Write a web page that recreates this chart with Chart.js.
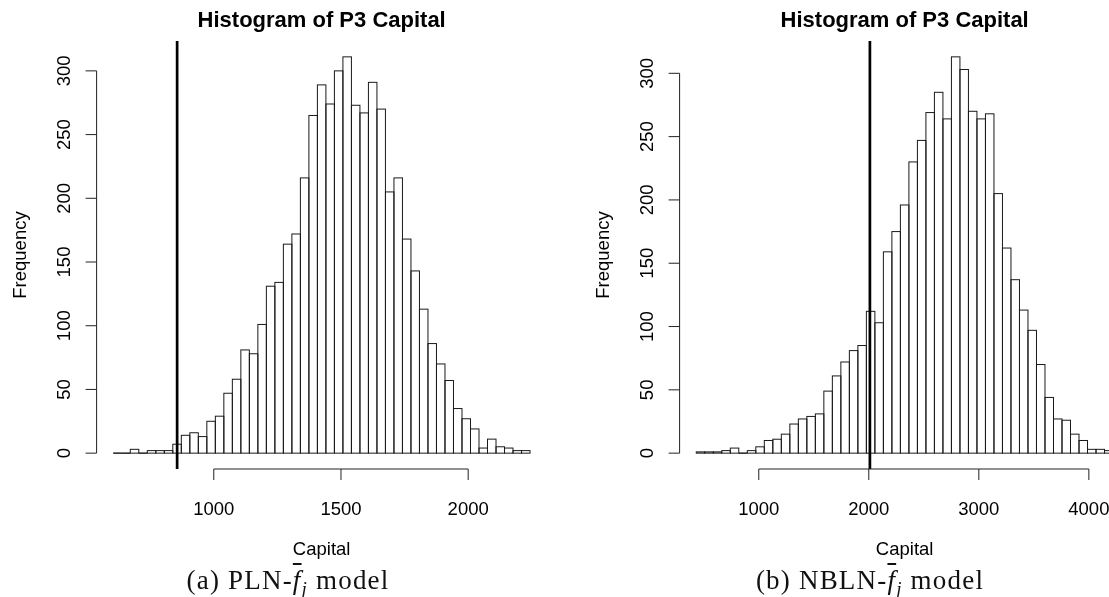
<!DOCTYPE html>
<html lang="en">
<head>
    <meta charset="UTF-8">
    <title>Histogram of P3 Capital</title>
    <script src="https://cdn.jsdelivr.net/npm/chart.js"></script>
    <style>
        body {
            margin: 0;
            width: 1109px;
            height: 597px;
            overflow: hidden;
            position: relative;
            background: #fff;
        }

        .panel {
            position: absolute;
            top: 0;
        }

        .caption {
            position: absolute;
            top: 567px;
            font-family: "Liberation Serif", "DejaVu Serif", serif;
            font-size: 27px;
            line-height: 27px;
            letter-spacing: 1.2px;
            white-space: nowrap;
            transform: translateX(-50%);
            color: #111;
        }

        .fbar {
            font-style: italic;
            text-decoration: overline;
        }

        .caption sub {
            font-style: italic;
            font-size: 19px;
        }
    </style>
</head>
<body>
    <canvas id="plnChart" class="panel" style="left:0px" width="555" height="597"></canvas>
    <canvas id="nblnChart" class="panel" style="left:583px" width="555" height="597"></canvas>

    <div class="caption" style="left:288px">(a) PLN-<span class="fbar">f</span><sub>j</sub> model</div>
    <div class="caption" style="left:870px">(b) NBLN-<span class="fbar">f</span><sub>j</sub> model</div>

    <script>
        // frequency per bin (49 bins each)
        const plnCounts = [0, 0, 3, 0, 2, 2, 2, 7, 14, 16, 13, 25, 29, 47, 58, 81, 78, 101, 131, 134,
            164, 172, 216, 265, 289, 274, 300, 311, 273, 267, 291, 270, 205, 216, 168, 143, 113, 86,
            70, 57, 35, 27, 19, 4, 11, 5, 4, 2, 2];
        const nblnCounts = [1, 1, 1, 2, 4, 0, 2, 5, 10, 11, 15, 23, 27, 29, 31, 49, 61, 72, 81, 85,
            112, 103, 159, 175, 196, 230, 247, 269, 285, 264, 313, 303, 270, 264, 268, 205, 162, 137,
            113, 97, 70, 44, 27, 26, 15, 10, 3, 3, 2];

        // first break and bin width of each histogram
        const plnBreakStart = 605;
        const plnBinWidth = 33.43;
        const nblnBreakStart = 432;
        const nblnBinWidth = 77.3;

        // capital marked by the vertical line
        const plnMarker = 856;
        const nblnMarker = 2010;

        // axis ticks
        const yTicks = [0, 50, 100, 150, 200, 250, 300];
        const plnXTicks = [1000, 1500, 2000];
        const nblnXTicks = [1000, 2000, 3000, 4000];

        const sansFont = '"Liberation Sans", Arial, sans-serif';

        // draws R-style base graphics: bar outlines, detached axes, titles, marker line
        const rStyle = {
            id: 'rStyle',
            afterDatasetsDraw(chart, args, opts) {
                const ctx = chart.ctx;
                const area = chart.chartArea;
                const xs = chart.scales.x;
                const ys = chart.scales.y;
                ctx.save();

                // bar outlines (zero bins become the baseline, like hist() in R)
                ctx.strokeStyle = '#1a1a1a';
                ctx.lineWidth = 1;
                chart.getDatasetMeta(0).data.forEach(bar => {
                    const p = bar.getProps(['x', 'y', 'width', 'base'], true);
                    ctx.strokeRect(p.x - p.width / 2, p.y, p.width, p.base - p.y);
                });

                // marker line
                const mx = xs.getPixelForValue(opts.marker);
                ctx.strokeStyle = '#000';
                ctx.lineWidth = 2.7;
                ctx.beginPath();
                ctx.moveTo(mx, area.top);
                ctx.lineTo(mx, area.bottom);
                ctx.stroke();

                // axes
                ctx.strokeStyle = '#222';
                ctx.lineWidth = 1;
                ctx.beginPath();
                const y0 = ys.getPixelForValue(yTicks[0]);
                const y1 = ys.getPixelForValue(yTicks[yTicks.length - 1]);
                ctx.moveTo(area.left, y0);
                ctx.lineTo(area.left, y1);
                yTicks.forEach(v => {
                    const py = ys.getPixelForValue(v);
                    ctx.moveTo(area.left, py);
                    ctx.lineTo(area.left - 11, py);
                });
                const xt = opts.xTicks;
                ctx.moveTo(xs.getPixelForValue(xt[0]), area.bottom);
                ctx.lineTo(xs.getPixelForValue(xt[xt.length - 1]), area.bottom);
                xt.forEach(v => {
                    const px = xs.getPixelForValue(v);
                    ctx.moveTo(px, area.bottom);
                    ctx.lineTo(px, area.bottom + 11);
                });
                ctx.stroke();

                // tick labels
                ctx.fillStyle = '#000';
                ctx.font = '18.5px ' + sansFont;
                ctx.textAlign = 'center';
                ctx.textBaseline = 'alphabetic';
                xt.forEach(v => {
                    ctx.fillText(String(v), xs.getPixelForValue(v), area.bottom + 46);
                });
                yTicks.forEach(v => {
                    ctx.save();
                    ctx.translate(area.left - 27, ys.getPixelForValue(v));
                    ctx.rotate(-Math.PI / 2);
                    ctx.fillText(String(v), 0, 0);
                    ctx.restore();
                });

                // axis titles
                const cx = (area.left + area.right) / 2;
                ctx.fillText('Capital', cx, area.bottom + 86);
                ctx.save();
                ctx.translate(area.left - 71, (area.top + area.bottom) / 2);
                ctx.rotate(-Math.PI / 2);
                ctx.fillText('Frequency', 0, 0);
                ctx.restore();

                // main title
                ctx.font = 'bold 22px ' + sansFont;
                ctx.fillText('Histogram of P3 Capital', cx, area.top - 14);

                ctx.restore();
            }
        };

        function makeHistogram(canvasId, counts, breakStart, binWidth, xTicks, marker) {
            const n = counts.length;
            const breakEnd = breakStart + n * binWidth;
            const xPad = (breakEnd - breakStart) * 0.04;
            const yMax = Math.max(...counts);
            const points = counts.map((c, i) => ({ x: breakStart + (i + 0.5) * binWidth, y: c }));

            return new Chart(document.getElementById(canvasId).getContext('2d'), {
                type: 'bar',
                data: {
                    datasets: [{
                        data: points,
                        backgroundColor: '#fff',
                        borderWidth: 0,
                        barPercentage: 1,
                        categoryPercentage: 1,
                        inflateAmount: 0
                    }]
                },
                options: {
                    responsive: false,
                    animation: false,
                    layout: {
                        padding: { left: 96.6, right: 8.3, top: 41, bottom: 128 }
                    },
                    scales: {
                        x: {
                            type: 'linear',
                            display: false,
                            offset: false,
                            min: breakStart - xPad,
                            max: breakEnd + xPad,
                            ticks: { stepSize: 500 }
                        },
                        y: {
                            display: false,
                            min: -yMax * 0.04,
                            max: yMax * 1.04
                        }
                    },
                    plugins: {
                        legend: { display: false },
                        tooltip: { enabled: false },
                        rStyle: { xTicks: xTicks, marker: marker }
                    }
                },
                plugins: [rStyle]
            });
        }

        const plnChart = makeHistogram('plnChart', plnCounts, plnBreakStart, plnBinWidth, plnXTicks, plnMarker);
        const nblnChart = makeHistogram('nblnChart', nblnCounts, nblnBreakStart, nblnBinWidth, nblnXTicks, nblnMarker);
    </script>
</body>
</html>
